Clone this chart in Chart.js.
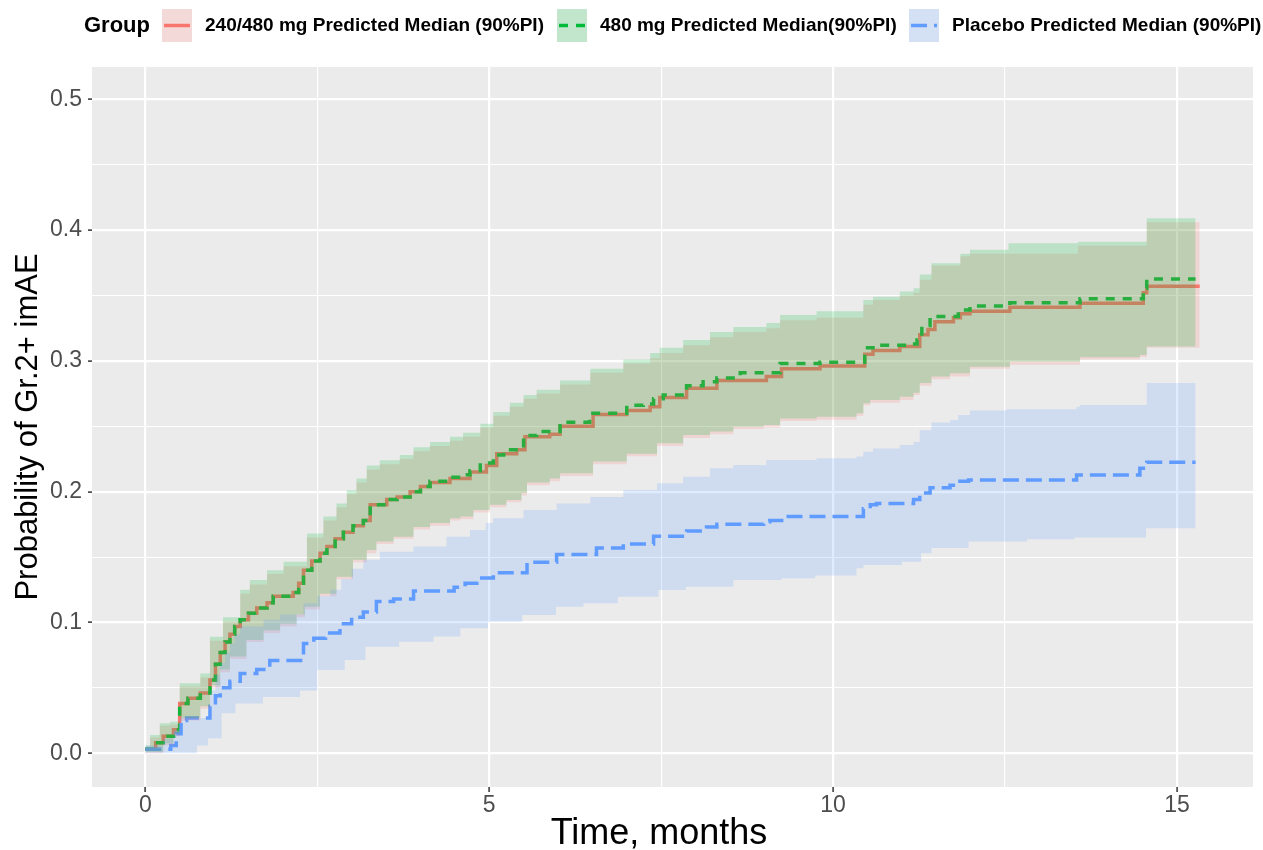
<!DOCTYPE html>
<html>
<head>
<meta charset="utf-8">
<script src="https://cdn.jsdelivr.net/npm/chart.js@4"></script>
<style>
  body { margin: 0; background: #fff; }
</style>
</head>
<body>
<canvas id="grafico" width="1263" height="850"></canvas>
<script>
// grupos (orden de la leyenda)
const grupos = ['240/480 mg Predicted Median (90%PI)', '480 mg Predicted Median(90%PI)', 'Placebo Predicted Median (90%PI)'];

// ejes
const xMayores = [0, 5, 10, 15];
const xEtiquetas = ['0', '5', '10', '15'];
const xMenores = [2.5, 7.5, 12.5];
const yMayores = [0, 0.1, 0.2, 0.3, 0.4, 0.5];
const yEtiquetas = ['0.0', '0.1', '0.2', '0.3', '0.4', '0.5'];
const yMenores = [0.05, 0.15, 0.25, 0.35, 0.45];

// 240/480 mg mediana
const tMed240 = [0, 0.15, 0.26, 0.41, 0.50, 0.62, 0.80, 0.94, 1.02, 1.09, 1.16, 1.23, 1.30, 1.38, 1.50, 1.62, 1.77, 1.86, 2.15, 2.23, 2.30, 2.42, 2.54, 2.64, 2.76, 2.88, 3.02, 3.17, 3.27, 3.51, 3.66, 3.85, 4.00, 4.14, 4.43, 4.72, 4.96, 5.11, 5.40, 5.52, 5.88, 6.03, 6.51, 7.00, 7.34, 7.48, 7.87, 8.31, 9.03, 9.25, 9.81, 10.46, 10.58, 10.97, 11.26, 11.38, 11.48, 11.75, 11.85, 11.99, 12.57, 13.59, 14.51, 14.56, 15.33];
const med240 = [0.003, 0.008, 0.013, 0.018, 0.038, 0.042, 0.046, 0.056, 0.068, 0.077, 0.085, 0.091, 0.097, 0.102, 0.107, 0.111, 0.115, 0.120, 0.123, 0.130, 0.140, 0.147, 0.153, 0.158, 0.164, 0.169, 0.174, 0.178, 0.190, 0.194, 0.196, 0.200, 0.204, 0.207, 0.210, 0.215, 0.220, 0.229, 0.232, 0.242, 0.244, 0.250, 0.259, 0.262, 0.265, 0.272, 0.279, 0.285, 0.288, 0.294, 0.296, 0.305, 0.308, 0.311, 0.320, 0.324, 0.330, 0.333, 0.336, 0.338, 0.341, 0.344, 0.352, 0.357, 0.357];
// 240/480 mg intervalo 90%
const tAlto240 = [0, 0.07, 0.21, 0.36, 0.50, 0.80, 0.94, 1.13, 1.38, 1.52, 1.77, 2.01, 2.35, 2.59, 2.78, 2.93, 3.07, 3.22, 3.41, 3.70, 3.90, 4.14, 4.43, 4.62, 4.87, 5.06, 5.30, 5.50, 5.69, 6.03, 6.47, 6.95, 7.34, 7.48, 7.82, 8.21, 8.55, 9.03, 9.23, 9.76, 10.44, 10.58, 10.97, 11.17, 11.26, 11.43, 11.85, 11.99, 12.55, 13.56, 14.56, 15.33];
const alto240 = [0.005, 0.012, 0.021, 0.022, 0.051, 0.058, 0.086, 0.101, 0.122, 0.129, 0.137, 0.143, 0.165, 0.178, 0.188, 0.198, 0.207, 0.217, 0.221, 0.225, 0.231, 0.235, 0.239, 0.242, 0.249, 0.258, 0.265, 0.271, 0.275, 0.282, 0.291, 0.298, 0.302, 0.306, 0.312, 0.318, 0.322, 0.325, 0.331, 0.333, 0.343, 0.3466, 0.350, 0.352, 0.362, 0.373, 0.380, 0.382, 0.382, 0.388, 0.406, 0.406];
const tBajo240 = [0, 0.26, 0.41, 0.50, 0.80, 0.94, 1.09, 1.23, 1.47, 1.72, 1.96, 2.20, 2.32, 2.54, 2.78, 3.02, 3.22, 3.36, 3.61, 3.90, 4.14, 4.43, 4.58, 4.77, 5.01, 5.25, 5.47, 5.55, 5.88, 6.03, 6.51, 7.00, 7.44, 7.82, 8.21, 8.55, 8.99, 9.23, 9.76, 10.34, 10.44, 10.54, 10.97, 11.17, 11.26, 11.43, 11.70, 11.99, 12.57, 13.59, 14.46, 14.56, 15.33];
const bajo240 = [0.000, 0.006, 0.013, 0.025, 0.034, 0.050, 0.062, 0.072, 0.085, 0.092, 0.097, 0.104, 0.110, 0.120, 0.133, 0.146, 0.153, 0.160, 0.164, 0.171, 0.174, 0.178, 0.179, 0.184, 0.188, 0.192, 0.197, 0.205, 0.208, 0.212, 0.221, 0.227, 0.235, 0.241, 0.244, 0.248, 0.249, 0.254, 0.255, 0.258, 0.266, 0.268, 0.270, 0.274, 0.281, 0.286, 0.288, 0.294, 0.297, 0.301, 0.303, 0.310, 0.310];

// 480 mg mediana
const tMed480 = [0, 0.15, 0.26, 0.41, 0.50, 0.62, 0.80, 0.94, 1.02, 1.09, 1.16, 1.23, 1.30, 1.38, 1.50, 1.62, 1.77, 1.86, 2.15, 2.23, 2.30, 2.42, 2.54, 2.64, 2.76, 2.88, 3.02, 3.17, 3.27, 3.51, 3.66, 3.85, 4.00, 4.14, 4.43, 4.58, 4.72, 4.87, 5.06, 5.21, 5.50, 5.69, 6.03, 6.46, 7.00, 7.24, 7.39, 7.53, 7.87, 8.11, 8.31, 8.65, 9.23, 9.81, 10.46, 10.58, 11.07, 11.22, 11.29, 11.41, 11.82, 11.99, 12.57, 13.59, 14.51, 14.56, 15.27];
const med480 = [0.003, 0.008, 0.013, 0.018, 0.038, 0.042, 0.046, 0.056, 0.068, 0.077, 0.085, 0.091, 0.097, 0.102, 0.107, 0.111, 0.115, 0.120, 0.123, 0.130, 0.140, 0.147, 0.153, 0.158, 0.164, 0.169, 0.174, 0.178, 0.190, 0.194, 0.196, 0.200, 0.204, 0.208, 0.211, 0.213, 0.216, 0.222, 0.228, 0.232, 0.243, 0.246, 0.253, 0.260, 0.266, 0.267, 0.271, 0.274, 0.281, 0.284, 0.287, 0.291, 0.298, 0.299, 0.310, 0.312, 0.313, 0.316, 0.327, 0.334, 0.339, 0.342, 0.3445, 0.3475, 0.3555, 0.3626, 0.3626];
// 480 mg intervalo 90%
const tAlto480 = [0, 0.07, 0.21, 0.36, 0.50, 0.80, 0.94, 1.13, 1.38, 1.52, 1.77, 2.01, 2.35, 2.59, 2.78, 2.93, 3.07, 3.22, 3.41, 3.70, 3.90, 4.14, 4.43, 4.62, 4.87, 5.06, 5.30, 5.50, 5.69, 6.03, 6.47, 6.95, 7.34, 7.48, 7.82, 8.21, 8.55, 9.03, 9.23, 9.76, 10.44, 10.58, 10.97, 11.17, 11.26, 11.43, 11.85, 11.99, 12.55, 13.56, 14.56, 15.27];
const alto480 = [0.006, 0.014, 0.023, 0.024, 0.0535, 0.061, 0.089, 0.104, 0.125, 0.1325, 0.140, 0.1465, 0.168, 0.181, 0.191, 0.201, 0.210, 0.220, 0.224, 0.228, 0.234, 0.238, 0.242, 0.245, 0.252, 0.261, 0.268, 0.274, 0.278, 0.285, 0.294, 0.301, 0.306, 0.310, 0.316, 0.322, 0.326, 0.329, 0.335, 0.338, 0.3466, 0.349, 0.353, 0.3555, 0.366, 0.3746, 0.382, 0.385, 0.390, 0.391, 0.409, 0.409];
const tBajo480 = [0, 0.26, 0.41, 0.50, 0.80, 0.94, 1.09, 1.23, 1.47, 1.72, 1.96, 2.20, 2.32, 2.54, 2.78, 3.02, 3.22, 3.36, 3.61, 3.90, 4.14, 4.43, 4.58, 4.77, 5.01, 5.25, 5.47, 5.55, 5.88, 6.03, 6.51, 7.00, 7.44, 7.82, 8.21, 8.55, 8.99, 9.23, 9.76, 10.34, 10.44, 10.54, 10.97, 11.17, 11.26, 11.43, 11.70, 11.99, 12.57, 13.59, 14.46, 14.56, 15.27];
const bajo480 = [0.001, 0.0076, 0.015, 0.027, 0.036, 0.052, 0.064, 0.074, 0.0866, 0.094, 0.099, 0.106, 0.112, 0.122, 0.135, 0.148, 0.1554, 0.162, 0.1656, 0.173, 0.176, 0.1797, 0.181, 0.186, 0.190, 0.1937, 0.199, 0.207, 0.210, 0.214, 0.223, 0.229, 0.237, 0.2433, 0.246, 0.2497, 0.251, 0.256, 0.2573, 0.260, 0.2676, 0.270, 0.2726, 0.2757, 0.283, 0.288, 0.2905, 0.2956, 0.2994, 0.3027, 0.3045, 0.311, 0.311];

// placebo mediana
const tMedPbo = [0, 0.37, 0.45, 0.52, 0.60, 0.94, 1.02, 1.09, 1.23, 1.38, 1.62, 1.81, 2.30, 2.45, 2.62, 2.83, 3.00, 3.17, 3.36, 3.61, 3.90, 4.49, 4.65, 4.82, 5.06, 5.55, 5.98, 6.56, 6.95, 7.39, 7.87, 8.16, 8.31, 8.99, 9.08, 9.28, 10.44, 10.54, 10.63, 11.17, 11.26, 11.41, 11.70, 11.80, 11.97, 13.54, 14.46, 14.56, 15.27];
const medPbo = [0.003, 0.006, 0.015, 0.025, 0.027, 0.036, 0.044, 0.050, 0.055, 0.061, 0.064, 0.071, 0.084, 0.088, 0.092, 0.099, 0.104, 0.108, 0.116, 0.118, 0.124, 0.127, 0.130, 0.134, 0.138, 0.146, 0.152, 0.157, 0.160, 0.166, 0.170, 0.173, 0.175, 0.177, 0.178, 0.181, 0.187, 0.190, 0.191, 0.194, 0.199, 0.203, 0.205, 0.208, 0.209, 0.2128, 0.218, 0.2225, 0.2225];
// placebo intervalo 90%
const tAltoPbo = [0, 0.26, 0.41, 0.50, 0.94, 1.02, 1.09, 1.16, 1.23, 1.30, 1.38, 1.72, 1.96, 2.30, 2.50, 2.69, 2.85, 3.00, 3.17, 3.41, 3.90, 4.38, 4.72, 4.95, 5.06, 5.50, 5.98, 6.47, 6.95, 7.44, 7.82, 8.21, 8.55, 9.03, 9.76, 10.34, 10.44, 10.58, 10.97, 11.17, 11.26, 11.43, 11.70, 11.82, 11.99, 12.52, 13.54, 13.59, 14.56, 15.27];
const altoPbo = [0.006, 0.011, 0.018, 0.027, 0.048, 0.060, 0.069, 0.077, 0.084, 0.091, 0.097, 0.102, 0.106, 0.1147, 0.120, 0.125, 0.133, 0.141, 0.148, 0.154, 0.158, 0.1656, 0.1707, 0.176, 0.1797, 0.186, 0.191, 0.196, 0.2013, 0.2064, 0.2115, 0.218, 0.2204, 0.2242, 0.2255, 0.2268, 0.2306, 0.233, 0.2357, 0.238, 0.247, 0.2528, 0.2548, 0.2586, 0.262, 0.263, 0.265, 0.2663, 0.283, 0.283];
const tBajoPbo = [0, 0.75, 0.91, 1.11, 1.31, 1.71, 2.25, 2.50, 2.90, 3.20, 3.69, 4.19, 4.58, 4.98, 5.48, 5.97, 6.37, 6.87, 7.46, 7.86, 8.55, 9.25, 9.74, 10.34, 10.44, 11.00, 11.28, 11.43, 11.97, 12.82, 13.51, 14.55, 15.27];
const bajoPbo = [0.000, 0.006, 0.0115, 0.0306, 0.038, 0.043, 0.048, 0.0637, 0.0713, 0.0815, 0.0853, 0.0892, 0.0955, 0.1006, 0.1057, 0.112, 0.1147, 0.1197, 0.1248, 0.1274, 0.1325, 0.1338, 0.136, 0.1414, 0.144, 0.1465, 0.153, 0.157, 0.162, 0.1636, 0.165, 0.172, 0.172];

const colores = ['#F8766D', '#00BA38', '#619CFF'];
const bandas = ['rgba(248,118,109,0.2)', 'rgba(0,186,56,0.2)', 'rgba(97,156,255,0.2)'];
const guiones = [[], [9, 8], [16, 7]];

const pts = (t, v) => t.map((x, i) => ({x: x, y: v[i]}));

function linea(t, v, i, orden) {
    return {data: pts(t, v), borderColor: colores[i], borderWidth: 3.5, borderDash: guiones[i],
        stepped: 'before', pointRadius: 0, fill: false, order: orden};
}
function borde(t, v, i, orden, relleno) {
    return {data: pts(t, v), borderColor: 'rgba(0,0,0,0)', borderWidth: 0, backgroundColor: bandas[i],
        stepped: 'before', pointRadius: 0, fill: relleno, order: orden};
}

const esMayor = (v, lista) => lista.some(m => Math.abs(m - v) < 1e-9);

const fondo = {
    id: 'fondo',
    beforeDraw(chart) {
        const c = chart.ctx, a = chart.chartArea;
        c.save();
        c.fillStyle = '#FFFFFF';
        c.fillRect(0, 0, chart.width, chart.height);
        c.fillStyle = '#EBEBEB';
        c.fillRect(a.left, a.top, a.right - a.left, a.bottom - a.top);
        c.restore();
    }
};

const leyenda = {
    id: 'leyenda',
    afterDraw(chart) {
        const c = chart.ctx;
        const clave = [162, 557, 909];
        c.save();
        c.textBaseline = 'middle';
        c.fillStyle = '#000';
        c.font = 'bold 22px "Liberation Sans"';
        c.fillText('Group', 84, 26);
        c.font = 'bold 19px "Liberation Sans"';
        grupos.forEach((g, i) => {
            const x = clave[i];
            c.fillStyle = '#F2F2F2';
            c.fillRect(x, 9, 30, 33);
            c.fillStyle = bandas[i];
            c.fillRect(x, 9, 30, 33);
            c.strokeStyle = colores[i];
            c.lineWidth = 3.5;
            c.setLineDash(guiones[i]);
            c.beginPath();
            c.moveTo(x + 2, 25.5);
            c.lineTo(x + 28, 25.5);
            c.stroke();
            c.setLineDash([]);
            c.fillStyle = '#000';
            c.fillText(g, x + 43, 26);
        });
        // titulo del eje x
        c.font = '36px "Liberation Sans"';
        c.textAlign = 'center';
        c.fillText('Time, months', 659, 834);
        c.restore();
    }
};

const ctx = document.getElementById('grafico').getContext('2d');
const miGrafico = new Chart(ctx, {
    type: 'line',
    data: {
        datasets: [
            linea(tMed240, med240, 0, 30),
            linea(tMed480, med480, 1, 29),
            linea(tMedPbo, medPbo, 2, 28),
            borde(tAlto240, alto240, 0, 20, '+1'),
            borde(tBajo240, bajo240, 0, 19, false),
            borde(tAlto480, alto480, 1, 18, '+1'),
            borde(tBajo480, bajo480, 1, 17, false),
            borde(tAltoPbo, altoPbo, 2, 16, '+1'),
            borde(tBajoPbo, bajoPbo, 2, 15, false)
        ]
    },
    options: {
        responsive: false,
        animation: false,
        font: {family: '"Liberation Sans"'},
        layout: {padding: {top: 67, right: 10, left: 0, bottom: 0}},
        plugins: {legend: {display: false}, tooltip: {enabled: false}},
        scales: {
            x: {
                type: 'linear',
                min: -0.775,
                max: 16.105,
                afterFit: (s) => { s.height = 63; },
                afterBuildTicks: (s) => {
                    s.ticks = xMayores.concat(xMenores).sort((a, b) => a - b).map(v => ({value: v}));
                },
                border: {display: false},
                grid: {
                    color: '#FFFFFF',
                    lineWidth: (c) => c.tick && esMayor(c.tick.value, xMayores) ? 2.2 : 1.1,
                    tickLength: 5,
                    tickColor: (c) => c.tick && esMayor(c.tick.value, xMayores) ? '#333333' : 'rgba(0,0,0,0)',
                    tickWidth: 1.5
                },
                ticks: {
                    autoSkip: false,
                    maxRotation: 0,
                    padding: 0,
                    color: '#4D4D4D',
                    font: {size: 23, family: '"Liberation Sans"'},
                    callback: (v) => {
                        const k = xMayores.findIndex(m => Math.abs(m - v) < 1e-9);
                        return k >= 0 ? xEtiquetas[k] : '';
                    }
                },
                title: {display: false}
            },
            y: {
                min: -0.0258,
                max: 0.5247,
                afterFit: (s) => { s.width = 92; },
                afterBuildTicks: (s) => {
                    s.ticks = yMayores.concat(yMenores).sort((a, b) => a - b).map(v => ({value: v}));
                },
                border: {display: false},
                grid: {
                    color: '#FFFFFF',
                    lineWidth: (c) => c.tick && esMayor(c.tick.value, yMayores) ? 2.2 : 1.1,
                    tickLength: 4,
                    tickColor: (c) => c.tick && esMayor(c.tick.value, yMayores) ? '#333333' : 'rgba(0,0,0,0)',
                    tickWidth: 1.5
                },
                ticks: {
                    autoSkip: false,
                    padding: 6,
                    color: '#4D4D4D',
                    font: {size: 23, family: '"Liberation Sans"'},
                    callback: (v) => {
                        const k = yMayores.findIndex(m => Math.abs(m - v) < 1e-9);
                        return k >= 0 ? yEtiquetas[k] : '';
                    }
                },
                title: {
                    display: true,
                    text: 'Probability of Gr.2+ imAE',
                    color: '#000',
                    font: {size: 31, family: '"Liberation Sans"', lineHeight: 1},
                    padding: {top: 13, bottom: 0}
                }
            }
        }
    },
    plugins: [fondo, leyenda]
});
</script>
</body>
</html>
